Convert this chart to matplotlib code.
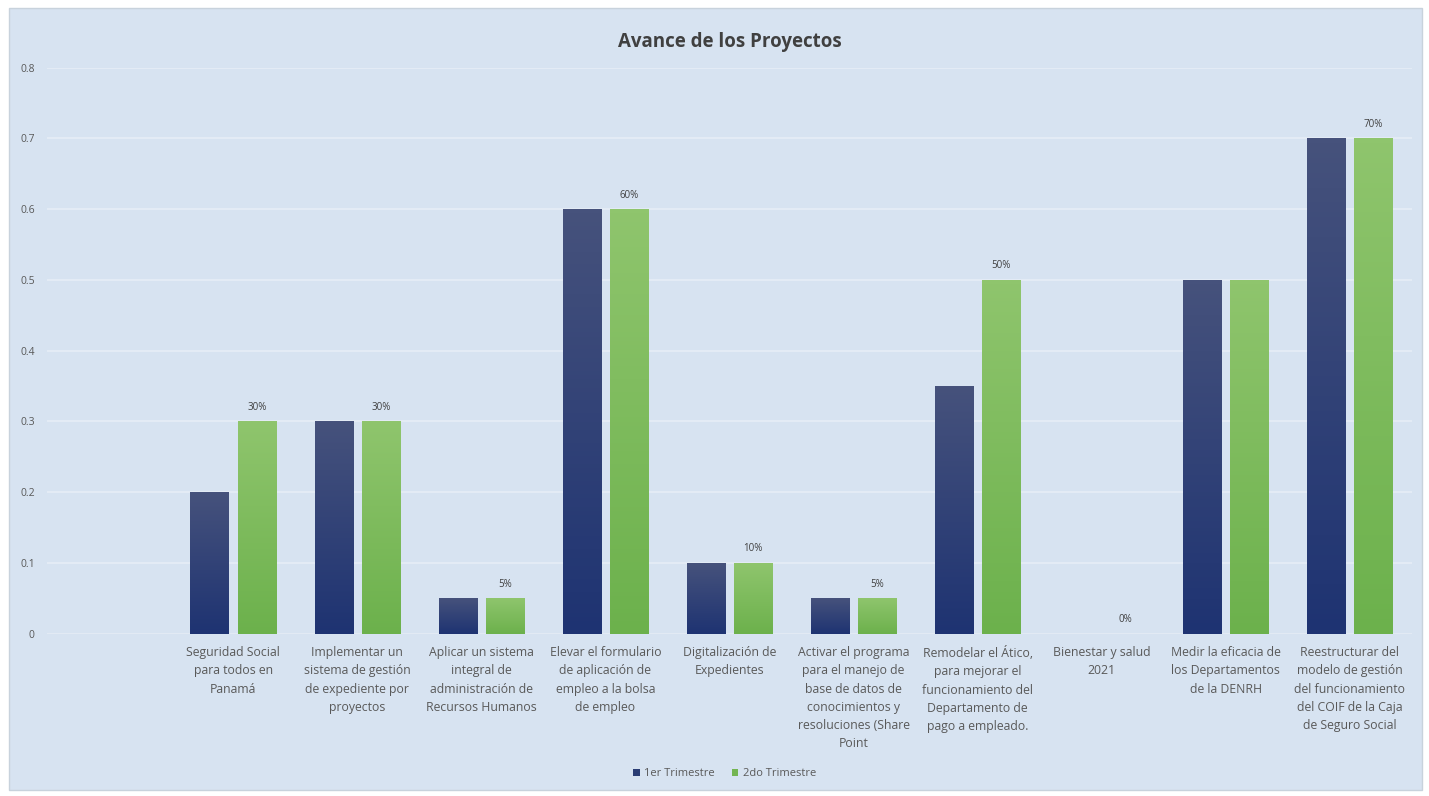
import numpy as np
import matplotlib.pyplot as plt
from matplotlib.patches import FancyBboxPatch

# Project names (first slot is left blank on purpose)
proyectos = [
    "",
    "Seguridad Social\npara todos en\nPanamá",
    "Implementar un\nsistema de gestión\nde expediente por\nproyectos",
    "Aplicar un sistema\nintegral de\nadministración de\nRecursos Humanos",
    "Elevar el formulario\nde aplicación de\nempleo a la bolsa\nde empleo",
    "Digitalización de\nExpedientes",
    "Activar el programa\npara el manejo de\nbase de datos de\nconocimientos y\nresoluciones (Share\nPoint",
    "Remodelar el Ático,\npara mejorar el\nfuncionamiento del\nDepartamento de\npago a empleado.",
    "Bienestar y salud\n2021",
    "Medir la eficacia de\nlos Departamentos\nde la DENRH",
    "Reestructurar del\nmodelo de gestión\ndel funcionamiento\ndel COIF de la Caja\nde Seguro Social",
]
trim1 = [np.nan, 0.2, 0.3, 0.05, 0.6, 0.1, 0.05, 0.35, 0.0, 0.5, 0.7]
trim2 = [np.nan, 0.3, 0.3, 0.05, 0.6, 0.1, 0.05, 0.5, 0.0, 0.5, 0.7]
etiquetas2 = ["", "30%", "30%", "5%", "60%", "10%", "5%", "50%", "0%", "", "70%"]

plt.rcParams['font.family'] = ['Open Sans', 'DejaVu Sans']
texto = '#595959'
fondo = '#d7e3f1'

fig = plt.figure(figsize=(14.29, 7.96), dpi=100)
fig.patch.set_facecolor('white')
# light blue chart panel
fig.patches.append(FancyBboxPatch((0.006, 0.008), 0.989, 0.982, boxstyle='square,pad=0',
                                  transform=fig.transFigure, facecolor=fondo,
                                  edgecolor='#c8d2dc', linewidth=1.0, zorder=-10))

ax = fig.add_axes([0.033, 0.204, 0.955, 0.711])
ax.set_facecolor('none')

x = np.arange(len(proyectos))
ancho = 0.31
b1 = ax.bar(x - 0.19, trim1, ancho, color='#2a3d74', zorder=2)
b2 = ax.bar(x + 0.19, trim2, ancho, color='#73b552', zorder=2)

# vertical gradient on each bar
def degradado(barras, arriba, abajo):
    grad = np.linspace(0, 1, 100).reshape(-1, 1)
    c1 = np.array(plt.matplotlib.colors.to_rgb(abajo))
    c2 = np.array(plt.matplotlib.colors.to_rgb(arriba))
    img = c1 + (c2 - c1) * grad[..., None]
    for b in barras:
        h = b.get_height()
        if not np.isfinite(h) or h <= 0:
            continue
        x0 = b.get_x()
        im = ax.imshow(img, extent=(x0, x0 + b.get_width(), 0, h), origin='lower',
                       aspect='auto', zorder=3)
        im.set_clip_path(b)

degradado(b1, '#46527c', '#1e3372')
degradado(b2, '#8fc56d', '#6cb14c')

for b, lab in zip(b2, etiquetas2):
    if lab:
        ax.text(b.get_x() + b.get_width() / 2, b.get_height() + 0.012, lab,
                ha='center', va='bottom', fontsize=7, color='#404040')

ax.set_xlim(-0.5, len(proyectos) - 0.5)
ax.set_ylim(0, 0.8)
ax.set_yticks(np.arange(0, 0.81, 0.1))
ax.set_yticklabels(['0', '0.1', '0.2', '0.3', '0.4', '0.5', '0.6', '0.7', '0.8'])
ax.set_xticks(x)
ax.set_xticklabels(proyectos, fontsize=8.8, color=texto, linespacing=1.52)
ax.tick_params(axis='y', labelsize=7.5, colors=texto, length=0, pad=9)
ax.tick_params(axis='x', length=0, pad=9)
ax.grid(axis='y', color='#e6edf6', linewidth=1.2, zorder=0)
for s in ax.spines.values():
    s.set_visible(False)
ax.axhline(0, color='#c9d5e2', linewidth=1, zorder=1)

ax.set_title('Avance de los Proyectos', fontsize=13.5, fontweight='bold',
             color='#404040', pad=15)

fig.legend([b1, b2], ['1er Trimestre', '2do Trimestre'], loc='center',
           bbox_to_anchor=(0.507, 0.028), ncol=2, frameon=False, fontsize=8,
           labelcolor=texto, handlelength=0.6, handleheight=0.6, handletextpad=0.4,
           columnspacing=1.5)

fig.savefig('out.png', dpi=100, facecolor=fig.get_facecolor())
